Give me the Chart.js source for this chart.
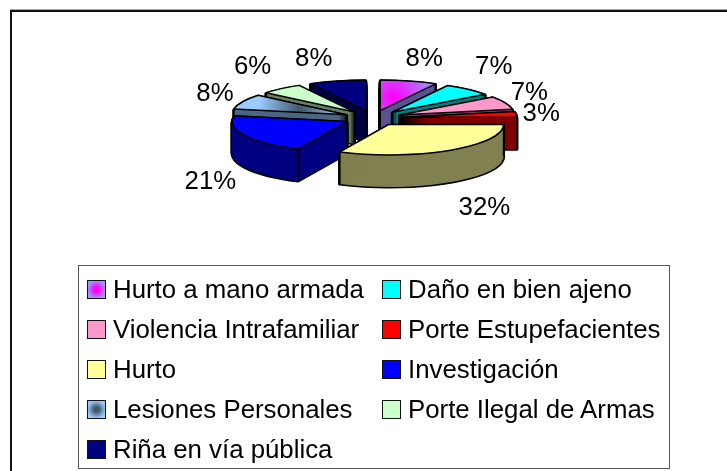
<!DOCTYPE html>
<html>
<head>
<meta charset="utf-8">
<script src="https://cdn.jsdelivr.net/npm/chart.js@4"></script>
<style>
  html, body { margin: 0; padding: 0; background: #fff; overflow: hidden; }
  body { width: 727px; height: 471px; position: relative; font-family: "Liberation Sans", Arial, sans-serif; }
  #myChart { position: absolute; left: 0; top: 0; }
  #frame { position: absolute; left: 10px; top: 10px; width: 717px; height: 461px; box-sizing: border-box;
           border-left: 2px solid #111; border-top: 2px solid #111; box-shadow: 0 -1px 0 #aaa; }
  #legend { position: absolute; left: 78px; top: 265px; width: 592px; height: 204px; box-sizing: border-box;
            border: 1px solid #555; }
  .item { position: absolute; height: 40px; line-height: 40px; font-size: 25.8px; color: #000; white-space: nowrap; }
  .swatch { position: absolute; left: 0; top: 11px; width: 19px; height: 19px; box-sizing: border-box; border: 1.5px solid #111; }
  .item span { position: absolute; left: 26px; top: 0; }
</style>
</head>
<body>
<canvas id="myChart" width="727" height="471"></canvas>
<div id="frame"></div>
<div id="legend"></div>
<script>
const categories = ["Hurto a mano armada", "Daño en bien ajeno", "Violencia Intrafamiliar", "Porte Estupefacientes",
  "Hurto", "Investigación", "Lesiones Personales", "Porte Ilegal de Armas", "Riña en vía pública"];
const percents = [8, 7, 7, 3, 32, 21, 8, 6, 8];
const topColors = ["#9999ff", "#00ffff", "#ff99cc", "#ff0000", "#ffff99", "#0000ff", "#99ccff", "#ccffcc", "#000080"];
const glowColors = ["#ff00ff", null, null, null, null, null, "#44586c", null, null];
const sideColors = ["#5c5290", "#008080", "#805066", "#800000", "#808050", "#000080", "#4c6680", "#668066", "#000040"];

// pie look: flattened, pulled apart, with a wall under each slice
const tilt = 0.265, explode = 29, depth = 32;
const labelNudge = [[7, 2], [3, -4], [-7, 0], [-9, 2], [16, 5], [-4, 3], [3, 3], [-7, -3], [-15, 2]];

function sliceCenter(arc) {
  const mid = (arc.startAngle + arc.endAngle) / 2;
  return { x: arc.x + Math.cos(mid) * explode, y: arc.y + Math.sin(mid) * explode * tilt };
}

function slicePath(ctx, arc, dy) {
  const c = sliceCenter(arc);
  ctx.beginPath();
  ctx.moveTo(c.x, c.y + dy);
  ctx.ellipse(c.x, c.y + dy, arc.outerRadius, arc.outerRadius * tilt, 0, arc.startAngle, arc.endAngle);
  ctx.closePath();
}

function topFill(ctx, arc, i) {
  if (!glowColors[i]) return topColors[i];
  const mid = (arc.startAngle + arc.endAngle) / 2;
  const c = sliceCenter(arc);
  const gx = c.x + Math.cos(mid) * arc.outerRadius * 0.45;
  const gy = c.y + Math.sin(mid) * arc.outerRadius * tilt * 0.45;
  const g = ctx.createRadialGradient(gx, gy, 1, gx, gy, arc.outerRadius * 0.36);
  g.addColorStop(0, glowColors[i]);
  g.addColorStop(1, topColors[i]);
  return g;
}

function drawSlice(ctx, arc, i) {
  ctx.lineJoin = "round";
  // black silhouette of the extruded slice, then the wall colour on top of it
  ctx.strokeStyle = "#000";
  ctx.lineWidth = 3;
  for (let d = 1; d <= depth; d++) { slicePath(ctx, arc, d); ctx.stroke(); }
  ctx.fillStyle = sideColors[i];
  for (let d = 1; d <= depth; d++) { slicePath(ctx, arc, d); ctx.fill(); }
  // vertical edges that face the viewer
  const c = sliceCenter(arc);
  const rx = arc.outerRadius, ry = rx * tilt;
  const corners = [c,
    { x: c.x + Math.cos(arc.startAngle) * rx, y: c.y + Math.sin(arc.startAngle) * ry },
    { x: c.x + Math.cos(arc.endAngle) * rx, y: c.y + Math.sin(arc.endAngle) * ry }];
  slicePath(ctx, arc, 0);
  const visible = corners.filter((p) => !ctx.isPointInPath(p.x, p.y + 3));
  ctx.lineWidth = 1.5;
  visible.forEach((p) => {
    ctx.beginPath();
    ctx.moveTo(p.x, p.y);
    ctx.lineTo(p.x, p.y + depth);
    ctx.stroke();
  });
  slicePath(ctx, arc, 0);
  ctx.fillStyle = topFill(ctx, arc, i);
  ctx.fill();
  ctx.stroke();
}

const tiltedPie = {
  id: "tiltedPie",
  beforeDatasetDraw(chart) {
    const ctx = chart.ctx;
    const arcs = chart.getDatasetMeta(0).data;
    const order = arcs.map((a, i) => i).sort((p, q) => {
      return Math.sin((arcs[p].startAngle + arcs[p].endAngle) / 2) - Math.sin((arcs[q].startAngle + arcs[q].endAngle) / 2);
    });
    ctx.save();
    order.forEach((i) => drawSlice(ctx, arcs[i], i));
    ctx.fillStyle = "#000";
    ctx.font = '25.8px "Liberation Sans", Arial, sans-serif';
    ctx.textAlign = "center";
    ctx.textBaseline = "middle";
    arcs.forEach((arc, i) => {
      const mid = (arc.startAngle + arc.endAngle) / 2;
      const x = arc.x + Math.cos(mid) * 178 + labelNudge[i][0];
      const y = arc.y + Math.sin(mid) * 63 + (Math.sin(mid) > 0 ? depth * 1 : 0) + labelNudge[i][1];
      ctx.fillText(percents[i] + "%", x, y);
    });
    ctx.restore();
    return false;
  },
};

new Chart(document.getElementById("myChart"), {
  type: "pie",
  data: {
    labels: categories,
    datasets: [{ data: percents, backgroundColor: topColors, borderWidth: 0 }],
  },
  options: {
    responsive: false,
    animation: false,
    layout: { padding: { left: 258, right: 239, top: 3, bottom: 238 } },
    plugins: { legend: { display: false }, tooltip: { enabled: false } },
  },
  plugins: [tiltedPie],
});

// legend in two columns, read across
const legend = document.getElementById("legend");
categories.forEach((name, i) => {
  const item = document.createElement("div");
  item.className = "item";
  item.style.left = (i % 2 ? 303 : 8) + "px";
  item.style.top = 3 + Math.floor(i / 2) * 40 + "px";
  const box = document.createElement("div");
  box.className = "swatch";
  box.style.background = glowColors[i]
    ? "radial-gradient(circle, " + glowColors[i] + " 20%, " + topColors[i] + " 75%)"
    : topColors[i];
  const text = document.createElement("span");
  text.textContent = name;
  item.appendChild(box);
  item.appendChild(text);
  legend.appendChild(item);
});
</script>
</body>
</html>
